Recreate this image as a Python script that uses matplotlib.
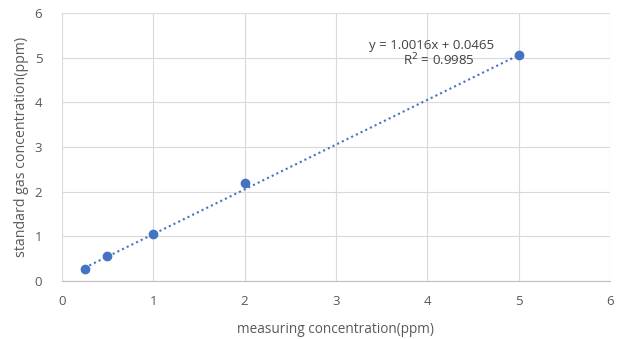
import numpy as np
import matplotlib.pyplot as plt

# measured vs. standard concentration (ppm)
measured = [0.25, 0.5, 1.0, 2.0, 5.0]
standard = [0.28, 0.57, 1.05, 2.2, 5.05]
slope, intercept = 1.0016, 0.0465
r2 = 0.9985

grey = '#595959'
blue = '#4472C4'
plt.rcParams['font.family'] = ['Open Sans', 'DejaVu Sans']

fig = plt.figure(figsize=(6.18, 3.39), dpi=100)
ax = fig.add_axes([0.1, 0.171, 0.887, 0.791])

xs = np.array([measured[0], measured[-1]])
ax.plot(xs, slope * xs + intercept, linestyle=(0, (1, 1.5)), color=blue, linewidth=1.5, zorder=2)
ax.scatter(measured, standard, s=36, color=blue, zorder=3)

ax.set_xlim(0, 6)
ax.set_ylim(0, 6)
ax.set_xticks(range(7))
ax.set_yticks(range(7))
ax.grid(True, color='#d9d9d9', linewidth=0.8)
ax.set_axisbelow(True)
for s in ['top', 'right', 'left']:
    ax.spines[s].set_visible(False)
ax.spines['bottom'].set_color('#bfbfbf')
ax.tick_params(axis='x', length=0, labelsize=9.5, colors=grey, pad=10)
ax.tick_params(axis='y', length=0, labelsize=9.5, colors=grey, pad=14)

ax.set_xlabel('measuring concentration(ppm)', fontsize=9.8, color=grey, labelpad=10)
ax.set_ylabel('standard gas concentration(ppm)', fontsize=10.2, color=grey, labelpad=4)

ax.text(4.05, 5.28, f'y = {slope}x + {intercept}', fontsize=9.5, color='#404040', ha='center', va='center')
ax.text(4.13, 4.95, f'R$^2$ = {r2}', fontsize=9.5, color='#404040', ha='center', va='center')

fig.savefig('out.png', dpi=100)
